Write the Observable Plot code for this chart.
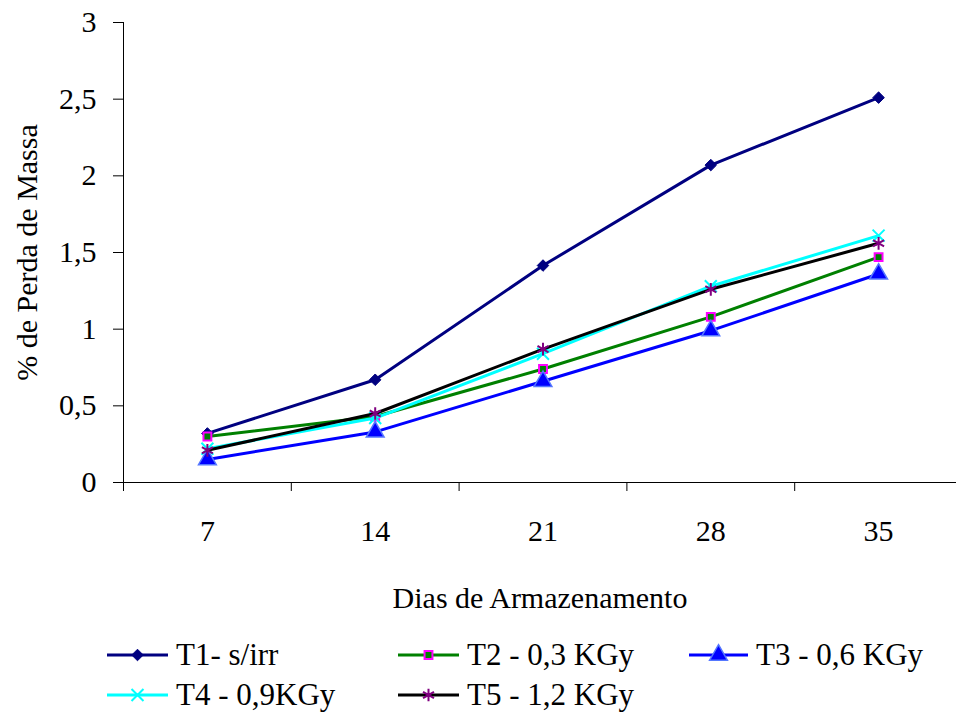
<!DOCTYPE html>
<html>
<head>
<meta charset="utf-8">
<script src="https://cdn.jsdelivr.net/npm/d3@7"></script>
<script src="https://cdn.jsdelivr.net/npm/@observablehq/plot@0.6"></script>
<style>
  html, body { margin: 0; padding: 0; background: #fff; }
  #wrap { position: relative; width: 956px; height: 712px; font-family: "Liberation Serif", "Times New Roman", "Nimbus Roman", "DejaVu Serif", serif; }
  .item { position: absolute; height: 40px; display: flex; align-items: center; font-size: 31px; color: #000; white-space: nowrap; }
  .item svg { display: block; }
  .item span { margin-left: 8px; }
  #wrap svg text { font-family: "Liberation Serif", "Times New Roman", "Nimbus Roman", "DejaVu Serif", serif; }
</style>
</head>
<body>
<div id="wrap"></div>
<script>
// ---- data ----
const days = [7, 14, 21, 28, 35];
const t1 = [0.32, 0.67, 1.415, 2.07, 2.51];
const t2 = [0.30, 0.43, 0.74, 1.08, 1.47];
const t3 = [0.15, 0.33, 0.66, 0.99, 1.36];
const t4 = [0.22, 0.42, 0.84, 1.28, 1.61];
const t5 = [0.21, 0.45, 0.87, 1.26, 1.56];
const seriesNames = ["T1- s/irr", "T2 - 0,3 KGy", "T3 - 0,6 KGy", "T4 - 0,9KGy", "T5 - 1,2 KGy"];
const yTicks = [0, 0.5, 1, 1.5, 2, 2.5, 3];
const yTickLabels = ["0", "0,5", "1", "1,5", "2", "2,5", "3"];
const xBounds = [3.5, 10.5, 17.5, 24.5, 31.5];

// ---- styles ----
const FONT = "'Liberation Serif', 'Times New Roman', 'Nimbus Roman', 'DejaVu Serif', serif";
const styles = [
  {line: "#000080", symbol: "diamond2", fill: "#000080", stroke: "#000080", sw: 1, r: 5.2},
  {line: "#008000", symbol: "square2", fill: "#008000", stroke: "#FF00FF", sw: 2, r: 5},
  {line: "#0000FF", symbol: "triangle2", fill: "#0000FF", stroke: "#5577FF", sw: 1.5, r: 8.5},
  {line: "#00FFFF", symbol: "times", fill: "none", stroke: "#00FFFF", sw: 2, r: 5.5},
  {line: "#000000", symbol: "asterisk", fill: "none", stroke: "#800080", sw: 2, r: 6}
];
const allSeries = [t1, t2, t3, t4, t5];
const rowsOf = (vals) => days.map((d, i) => ({day: d, v: vals[i]}));

const marks = [];
allSeries.forEach((vals, k) => {
  const s = styles[k];
  const rows = rowsOf(vals);
  marks.push(Plot.line(rows, {x: "day", y: "v", stroke: s.line, strokeWidth: 3}));
  marks.push(Plot.dot(rows, {x: "day", y: "v", symbol: () => s.symbol, fill: s.fill, stroke: s.stroke, strokeWidth: s.sw, r: s.r}));
});

const chart = Plot.plot({
  width: 956,
  height: 620,
  marginTop: 22,
  marginLeft: 123,
  marginRight: 0,
  marginBottom: 138,
  style: {fontFamily: FONT, fontSize: "30px", color: "#000", background: "#fff", overflow: "visible"},
  x: {type: "linear", domain: [3.5, 38.25]},
  y: {domain: [0, 3]},
  symbol: {type: "identity"},
  marks: [
    Plot.axisY({ticks: yTicks, tickFormat: (d) => yTickLabels[yTicks.indexOf(d)], tickSize: 10, tickPadding: 17,
      label: "% de Perda de Massa", labelAnchor: "center", labelArrow: "none", labelOffset: 108}),
    Plot.axisX({ticks: days, tickSize: 0, tickPadding: 37, tickFormat: (d) => String(d),
      label: "Dias de Armazenamento", labelAnchor: "center", labelArrow: "none", labelOffset: 125}),
    Plot.axisX({ticks: xBounds, tickSize: 9, tickFormat: () => "", label: null}),
    Plot.ruleX([3.5], {stroke: "#000", strokeWidth: 1}),
    Plot.ruleY([0], {stroke: "#000", strokeWidth: 1}),
    ...marks
  ]
});

const wrap = document.getElementById("wrap");
chart.style.position = "absolute";
chart.style.left = "0px";
chart.style.top = "0px";
wrap.appendChild(chart);

// ---- legend ----
const legendPos = [
  {left: 107, cy: 655}, {left: 398, cy: 655}, {left: 689, cy: 655},
  {left: 107, cy: 695}, {left: 398, cy: 695}
];
const symMap = {diamond2: d3.symbolDiamond2, square2: d3.symbolSquare2, triangle2: d3.symbolTriangle2, times: d3.symbolTimes, asterisk: d3.symbolAsterisk};
seriesNames.forEach((name, k) => {
  const s = styles[k];
  const p = legendPos[k];
  const div = document.createElement("div");
  div.className = "item";
  div.style.left = p.left + "px";
  div.style.top = (p.cy - 20) + "px";
  const w = k === 2 ? 59 : 61;
  const svg = d3.create("svg").attr("width", w).attr("height", 40);
  svg.append("line").attr("x1", 0).attr("x2", w).attr("y1", 20).attr("y2", 20).attr("stroke", s.line).attr("stroke-width", 3);
  svg.append("path").attr("transform", `translate(${w / 2},20)`)
    .attr("d", d3.symbol(symMap[s.symbol], s.r * s.r * Math.PI)())
    .attr("fill", s.fill).attr("stroke", s.stroke).attr("stroke-width", s.sw);
  div.appendChild(svg.node());
  const span = document.createElement("span");
  span.textContent = name;
  div.appendChild(span);
  wrap.appendChild(div);
});
</script>
</body>
</html>
